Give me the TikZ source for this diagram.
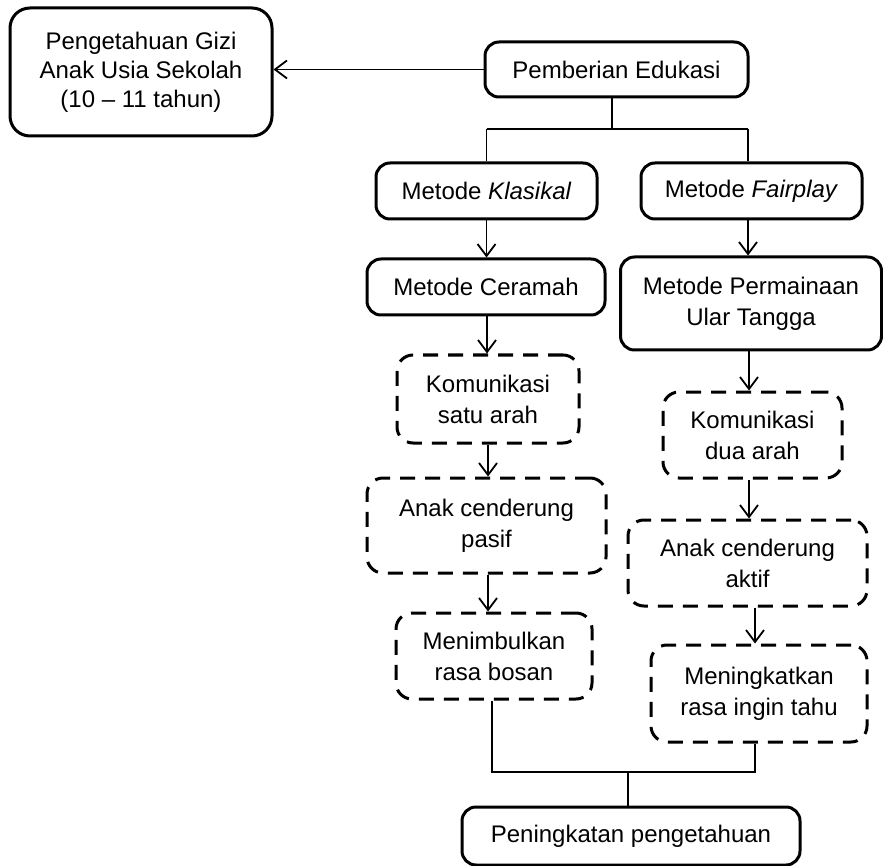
\documentclass[tikz,border=0pt]{standalone}
\usepackage{fontspec}
\setmainfont{Liberation Sans}
\usetikzlibrary{arrows.meta}
\begin{document}
\begin{tikzpicture}[x=1pt,y=-1pt,
  every node/.style={font=\fontsize{24}{31}\selectfont, align=center, inner sep=0pt},
  solidbox/.style={draw, line width=3pt, rounded corners=14pt, fill=white},
  dashbox/.style={draw, line width=3pt, rounded corners=16pt, fill=white, dash pattern=on 15pt off 10pt},
  conn/.style={line width=1.8pt},
  arr/.style={line width=1.8pt, -{Straight Barb[length=12pt,width=18pt,line width=1.8pt]}}]
\useasboundingbox (0,0) rectangle (883,866);

\node[solidbox, minimum width=262pt, minimum height=128pt, rounded corners=20pt, font=\fontsize{24}{29}\selectfont] (peng) at (141,72) {Pengetahuan Gizi\\Anak Usia Sekolah\\(10 -- 11 tahun)};
\node[solidbox, minimum width=263pt, minimum height=55pt] (pemb) at (616.5,69.5) {Pemberian Edukasi};
\node[solidbox, minimum width=221pt, minimum height=56pt] (klas) at (486.5,191) {Metode \textit{Klasikal}};
\node[solidbox, minimum width=221pt, minimum height=56pt] (fair) at (751.5,191) {Metode \textit{Fairplay}};
\node[solidbox, minimum width=238pt, minimum height=56pt] (cer) at (486,287) {Metode Ceramah};
\node[solidbox, minimum width=261pt, minimum height=93pt] (perm) at (751,303.5) {Metode Permainaan\\Ular Tangga};
\node[dashbox, minimum width=182pt, minimum height=88pt] (kom1) at (488,399) {Komunikasi\\satu arah};
\node[dashbox, minimum width=179pt, minimum height=86pt] (kom2) at (752.5,435) {Komunikasi\\dua arah};
\node[dashbox, minimum width=239pt, minimum height=95pt] (pasif) at (486.5,525.5) {Anak cenderung\\pasif};
\node[dashbox, minimum width=239pt, minimum height=86pt] (aktif) at (747.5,563) {Anak cenderung\\aktif};
\node[dashbox, minimum width=196pt, minimum height=86pt] (bosan) at (494,656) {Menimbulkan\\rasa bosan};
\node[dashbox, minimum width=216pt, minimum height=97pt] (tahu) at (759,693.5) {Meningkatkan\\rasa ingin tahu};
\node[solidbox, minimum width=338pt, minimum height=58pt] (hasil) at (631,836) {Peningkatan pengetahuan};

% top connectors
\draw[arr] (pemb.west) -- (pemb.west -| peng.east);
\coordinate (bus) at (612,129);
\draw[conn] ([xshift=-4.5pt]pemb.south) -- ([xshift=-4.5pt]pemb.south |- bus);
\draw[conn] (klas.north |- bus) -- ([xshift=-3.5pt]fair.north |- bus);
\draw[conn] (klas.north |- bus) -- (klas.north);
\draw[conn] ([xshift=-3.5pt]fair.north |- bus) -- ([xshift=-3.5pt]fair.north);

% left column arrows
\draw[arr] (klas.south) -- (klas.south |- cer.north);
\draw[arr] ([xshift=1pt]cer.south) -- ([xshift=1pt]cer.south |- kom1.north);
\draw[arr] (kom1.south) -- (kom1.south |- pasif.north);
\draw[arr] ([xshift=1.5pt]pasif.south) -- ([xshift=1.5pt]pasif.south |- bosan.north);

% right column arrows
\draw[arr] ([xshift=-3.5pt]fair.south) -- ([xshift=-3.5pt]fair.south |- perm.north);
\draw[arr] ([xshift=-2pt]perm.south) -- ([xshift=-2pt]perm.south |- kom2.north);
\draw[arr] ([xshift=-3.5pt]kom2.south) -- ([xshift=-3.5pt]kom2.south |- aktif.north);
\draw[arr] ([xshift=7.5pt]aktif.south) -- ([xshift=7.5pt]aktif.south |- tahu.north);

% bottom merge
\coordinate (mbus) at (628,772);
\draw[conn] ([xshift=-2pt]bosan.south) -- ([xshift=-2pt]bosan.south |- mbus) -- ([xshift=-4pt]tahu.south |- mbus) -- ([xshift=-4pt]tahu.south);
\draw[conn] (mbus) -- (mbus |- hasil.north);
\end{tikzpicture}
\end{document}
